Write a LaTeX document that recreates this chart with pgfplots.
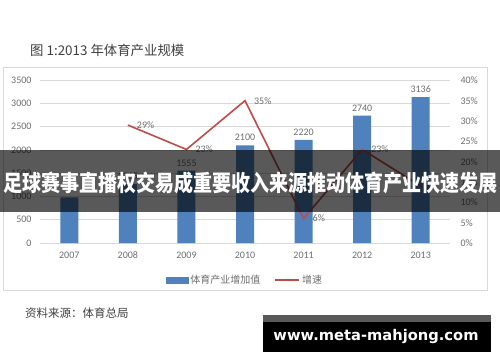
\documentclass[border=0pt]{standalone}
\usepackage{pgfplots}
\pgfplotsset{compat=1.18}
\usepackage{fontspec}
\usepackage{graphicx}
\setmainfont{Carlito}
\newfontfamily\cjk{Noto Sans CJK SC}
\newfontfamily\wmfont{DejaVu Sans}
\definecolor{barblue}{HTML}{4F81BD}
\definecolor{linered}{HTML}{BE4B48}
\definecolor{tickgray}{HTML}{6E6E6E}
\definecolor{gridgray}{HTML}{D9D9D9}
\definecolor{framegray}{HTML}{D9D9D9}
\definecolor{titlegray}{HTML}{404040}
\begin{document}
\begin{tikzpicture}[x=1pt,y=1pt]
\useasboundingbox (0,0) rectangle (500,362);
\fill[white] (0,0) rectangle (500,362);
\draw[framegray, line width=0.8pt] (3,72) rectangle (487,295);
\node[anchor=west, text=titlegray, font=\cjk\fontsize{13.4}{15}\selectfont, inner sep=0pt] at (30,312) {图 1:2013 年体育产业规模};
\begin{axis}[
  at={(40pt,119pt)}, anchor=south west, scale only axis,
  width=410pt, height=162.7pt,
  xmin=-0.5, xmax=6.5, ymin=0, ymax=3500,
  xtick={0,1,2,3,4,5,6},
  xticklabels={2007,2008,2009,2010,2011,2012,2013},
  ytick={0,500,1000,1500,2000,2500,3000,3500},
  yticklabels={0,500,1000,1500,2000,2500,3000,3500},
  ymajorgrids, grid style={gridgray, line width=0.8pt},
  axis line style={draw=none},
  major tick length=0pt,
  ticklabel style={font=\fontsize{10}{12}\selectfont, text=tickgray},
  yticklabel style={xshift=-5pt},
  xticklabel style={yshift=-5pt},
  clip=false,
]
\addplot[ybar, bar width=18pt, fill=barblue, draw=none,
  point meta=explicit symbolic, nodes near coords,
  every node near coord/.append style={font=\fontsize{10}{12}\selectfont, text=tickgray, yshift=1pt}]
  coordinates {(0,981)[] (1,1265)[1265] (2,1555)[1555] (3,2100)[2100] (4,2220)[2220] (5,2740)[2740] (6,3136)[3136]};
\end{axis}
\begin{axis}[
  at={(40pt,119pt)}, anchor=south west, scale only axis,
  width=410pt, height=162.7pt,
  xmin=-0.5, xmax=6.5, ymin=0, ymax=40,
  axis y line*=right, axis x line=none,
  ytick={0,5,10,15,20,25,30,35,40},
  yticklabels={0\%,5\%,10\%,15\%,20\%,25\%,30\%,35\%,40\%},
  axis line style={draw=none},
  major tick length=0pt,
  ticklabel style={font=\fontsize{10}{12}\selectfont, text=tickgray},
  yticklabel style={xshift=7pt},
  clip=false,
  legend style={at={(0.5,-0.227)}, anchor=center, draw=none, fill=none,
    font=\cjk\fontsize{10}{12}\selectfont, text=tickgray,
    legend columns=2, /tikz/every even column/.append style={column sep=12pt}},
  legend cell align=left,
]
\addlegendimage{legend image code/.code={\fill[barblue] (0pt,-3pt) rectangle (22pt,3pt);}}
\addlegendentry{体育产业增加值}
\addplot[linered, line width=1.6pt, mark=none,
  legend image code/.code={\draw[linered, line width=1.6pt] (0pt,0pt) -- (24pt,0pt);},
  point meta=explicit symbolic, nodes near coords,
  every node near coord/.append style={font=\fontsize{10}{12}\selectfont, text=tickgray, anchor=west, xshift=5pt}]
  coordinates {(1,29)[29\%] (2,23)[23\%] (3,35)[35\%] (4,6)[6\%] (5,23)[23\%] (6,14)[]};
\addlegendentry{增速}
\end{axis}
\node[anchor=west, text=titlegray, font=\cjk\fontsize{11.5}{13}\selectfont, inner sep=0pt] at (25,49) {资料来源：体育总局};
\fill[black, opacity=0.65] (0,150) rectangle (500,212);
\node[text=white, inner sep=0pt] at (250,179) {\resizebox*{494pt}{22pt}{\cjk\bfseries 足球赛事直播权交易成重要收入来源推动体育产业快速发展}};
\fill[black] (263,10) rectangle (491,47);
\fill[black!65] (263,40) rectangle (491,47);
\node[text=white, inner sep=0pt] at (376,25) {\resizebox{205pt}{!}{\wmfont\bfseries www.meta-mahjong.com}};
\end{tikzpicture}
\end{document}
